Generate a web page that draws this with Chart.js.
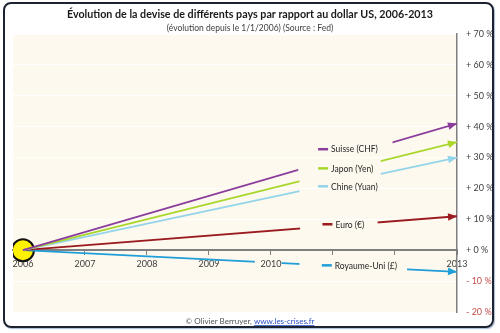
<!DOCTYPE html>
<html lang="fr">
<head>
<meta charset="utf-8">
<title>Devises / dollar US 2006-2013</title>
<script src="https://cdn.jsdelivr.net/npm/chart.js@4.4.1/dist/chart.umd.min.js"></script>
<style>
  html, body { margin: 0; padding: 0; background: #fff; }
  #wrap { position: relative; width: 500px; height: 333px; }
  #frame {
    position: absolute; left: 3px; top: 2px; width: 487px; height: 322px;
    border: 2px solid #1d2230; border-radius: 8px;
    box-shadow: 1px 1px 1px #a9bcd8; pointer-events: none;
  }
</style>
</head>
<body>
<div id="wrap">
  <canvas id="devises" width="500" height="333"></canvas>
  <div id="frame"></div>
</div>
<script>
// Évolution depuis le 1/1/2006, en %
const years = [2006, 2013];
const suisse = [0, 41];
const japon = [0, 35];
const chine = [0, 30];
const euro = [0, 11];
const royaumeUni = [0, -7];
const yearTicks = [2006, 2007, 2008, 2009, 2010, 2011, 2012, 2013];

const TITLE = "Évolution de la devise de différents pays par rapport au dollar US, 2006-2013";
const SUBTITLE = "(évolution depuis le 1/1/2006) (Source : Fed)";
const CREAM = "#fdf9ee";
const FONT = "Lato, 'Open Sans', sans-serif";

// label placement (axis units) and where each line is interrupted behind its label
const series = [
  { label: "Suisse (CHF)", values: suisse, color: "#8b3d9c", at: [2010.76, 32.7], gaps: [[2010.44, 2011.96]] },
  { label: "Japon (Yen)", values: japon, color: "#a9d62b", at: [2010.76, 26.5], gaps: [[2010.46, 2011.77]] },
  { label: "Chine (Yuan)", values: chine, color: "#93d4ea", at: [2010.76, 20.7], gaps: [[2010.46, 2011.77]] },
  { label: "Euro (€)", values: euro, color: "#9b1c20", at: [2010.83, 8.4], gaps: [[2010.47, 2011.72]] },
  { label: "Royaume-Uni (£)", values: royaumeUni, color: "#1f9ed8", at: [2010.82, -4.9], box: true,
    gaps: [[2009.74, 2010.17], [2010.46, 2012.15]] }
];

const datasets = series.map(s => ({
  label: s.label,
  data: years.map((x, i) => ({ x: x, y: s.values[i] })),
  borderColor: s.color,
  borderWidth: 1.8,
  pointRadius: 0,
  tension: 0,
  arrow: true,
  gaps: s.gaps
}));

// yellow marker at the common starting point
datasets.push({
  label: "départ",
  data: [{ x: years[0], y: suisse[0] }],
  showLine: false,
  pointRadius: 11,
  pointBackgroundColor: "#fff200",
  pointBorderColor: "#111",
  pointBorderWidth: 2
});

const gapClip = {
  id: "gapClip",
  beforeDatasetDraw(chart, args) {
    const gaps = chart.data.datasets[args.index].gaps;
    if (!gaps) return;
    const ctx = chart.ctx, x = chart.scales.x;
    ctx.save();
    ctx.beginPath();
    ctx.rect(0, 0, chart.width, chart.height);
    gaps.forEach(g => {
      const p0 = x.getPixelForValue(g[0]), p1 = x.getPixelForValue(g[1]);
      ctx.rect(p0, 0, p1 - p0, chart.height);
    });
    ctx.clip("evenodd");
  },
  afterDatasetDraw(chart, args) {
    if (chart.data.datasets[args.index].gaps) chart.ctx.restore();
  }
};

const decor = {
  id: "decor",
  beforeDraw(chart) {
    const { ctx, chartArea: a } = chart;
    ctx.save();
    ctx.fillStyle = "#fff";
    ctx.fillRect(0, 0, chart.width, chart.height);
    ctx.fillStyle = CREAM;
    ctx.fillRect(a.left, a.top, a.right - a.left, a.bottom - a.top);

    ctx.textAlign = "center";
    ctx.textBaseline = "middle";
    ctx.fillStyle = "#1a1a1a";
    ctx.font = "bold 11px " + FONT;
    ctx.fillText(TITLE, 250, 14, 366);
    ctx.fillStyle = "#404040";
    ctx.font = "8.5px " + FONT;
    ctx.fillText(SUBTITLE, 250, 28, 170);

    // footer
    ctx.font = "8px " + FONT;
    const left = "© Olivier Berruyer, ", link = "www.les-crises.fr";
    const w1 = ctx.measureText(left).width, w2 = ctx.measureText(link).width;
    const x0 = 250 - (w1 + w2) / 2;
    ctx.textAlign = "left";
    ctx.fillStyle = "#555";
    ctx.fillText(left, x0, 321);
    ctx.fillStyle = "#2a4fc0";
    ctx.fillText(link, x0 + w1, 321);
    ctx.fillRect(x0 + w1, 325, w2, 0.8);
    ctx.restore();
  },
  afterDatasetsDraw(chart) {
    const ctx = chart.ctx;
    chart.data.datasets.forEach((ds, i) => {
      if (!ds.arrow) return;
      const pts = chart.getDatasetMeta(i).data;
      const tip = pts[pts.length - 1], prev = pts[pts.length - 2];
      const ang = Math.atan2(tip.y - prev.y, tip.x - prev.x);
      ctx.save();
      ctx.translate(tip.x, tip.y);
      ctx.rotate(ang);
      ctx.fillStyle = ds.borderColor;
      ctx.beginPath();
      ctx.moveTo(0, 0);
      ctx.lineTo(-9, -3.8);
      ctx.lineTo(-9, 3.8);
      ctx.closePath();
      ctx.fill();
      ctx.restore();
    });
  },
  afterDraw(chart) {
    const { ctx, scales: { x, y } } = chart;
    ctx.save();
    ctx.font = "8.5px " + FONT;
    ctx.textBaseline = "middle";
    series.forEach(s => {
      const px = x.getPixelForValue(s.at[0]), py = y.getPixelForValue(s.at[1]);
      const tw = ctx.measureText(s.label).width;
      if (s.box) {
        // covers the 2011 / 2012 year labels under the legend text
        ctx.fillStyle = CREAM;
        ctx.fillRect(px - 4, py - 8, tw + 27, 16);
      }
      ctx.strokeStyle = s.color;
      ctx.lineWidth = 2.5;
      ctx.beginPath();
      ctx.moveTo(px, py);
      ctx.lineTo(px + 10, py);
      ctx.stroke();
      ctx.fillStyle = "#262626";
      ctx.fillText(s.label, px + 13, py + 0.5);
    });
    ctx.restore();
  }
};

new Chart(document.getElementById("devises"), {
  type: "line",
  data: { datasets: datasets },
  options: {
    responsive: false,
    animation: false,
    layout: { padding: { left: 9, top: 34, bottom: 21, right: 0 } },
    plugins: { legend: { display: false }, tooltip: { enabled: false } },
    scales: {
      x: {
        type: "linear",
        position: { y: 0 },
        z: 1,
        min: 2005.84,
        max: 2013,
        afterBuildTicks(s) { s.ticks = yearTicks.map(v => ({ value: v })); },
        border: { color: "#808080", width: 2 },
        grid: { drawOnChartArea: false, drawTicks: true, tickLength: 4, color: "#808080", lineWidth: 1 },
        ticks: {
          padding: 4,
          color: "#404040",
          font: { family: FONT, size: 9 },
          maxRotation: 0,
          autoSkip: false,
          callback: v => String(v)
        }
      },
      y: {
        position: "right",
        min: -20,
        max: 70,
        afterFit(s) { s.width = 43; },
        border: { color: "#7f7f7f", width: 1.5 },
        grid: { color: "rgba(255,255,255,0.9)", drawTicks: false, lineWidth: 1 },
        ticks: {
          stepSize: 10,
          padding: 9,
          font: { family: FONT, size: 9 },
          color: c => (c.tick.value < 0 ? "#c0504d" : "#404040"),
          callback: v => (v < 0 ? "- " : "+ ") + Math.abs(v) + " %"
        }
      }
    }
  },
  plugins: [gapClip, decor]
});
</script>
</body>
</html>
